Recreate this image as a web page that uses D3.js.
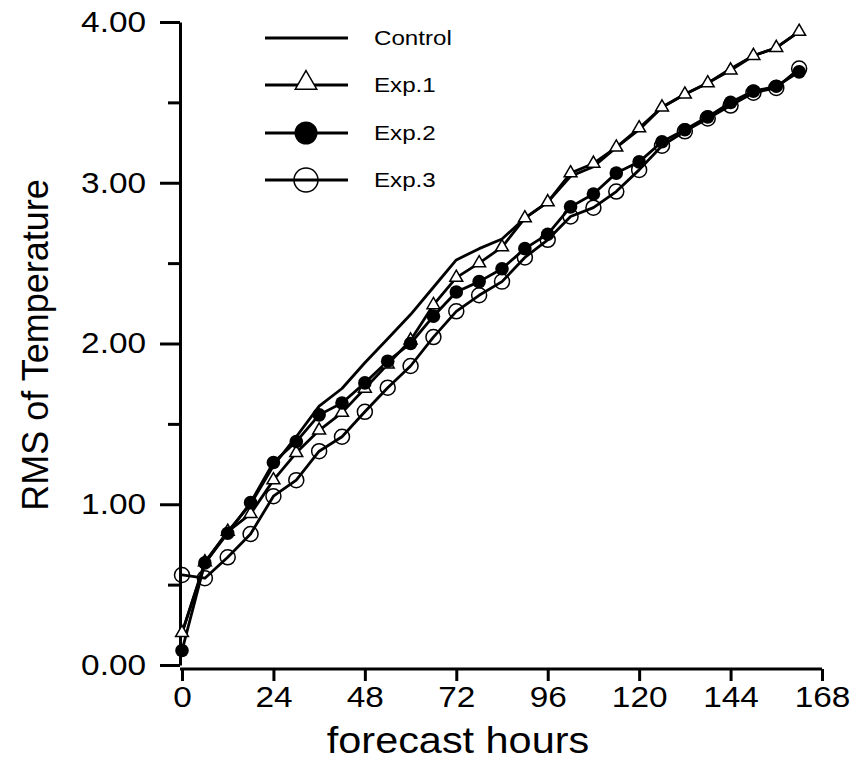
<!DOCTYPE html>
<html>
<head>
<meta charset="utf-8">
<script src="https://cdn.jsdelivr.net/npm/d3@7"></script>
<style>
body { margin: 0; background: #fff; }
text { font-family: "Liberation Sans", Arial, sans-serif; fill: #000; }
</style>
</head>
<body>
<div id="chart"></div>
<script>
// forecast hours, one value every 6 h
var hours = [0, 6, 12, 18, 24, 30, 36, 42, 48, 54, 60, 66, 72, 78, 84, 90, 96, 102, 108, 114, 120, 126, 132, 138, 144, 150, 156, 162];

var control = [0.20, 0.63, 0.83, 1.00, 1.24, 1.42, 1.61, 1.72, 1.88, 2.03, 2.18, 2.35, 2.52, 2.59, 2.65, 2.78, 2.88, 3.04, 3.10, 3.22, 3.33, 3.47, 3.55, 3.62, 3.71, 3.79, 3.84, 3.94];
var exp1 = [0.20, 0.64, 0.83, 0.94, 1.15, 1.32, 1.46, 1.57, 1.72, 1.87, 2.02, 2.24, 2.41, 2.50, 2.60, 2.78, 2.88, 3.06, 3.12, 3.22, 3.34, 3.47, 3.55, 3.62, 3.70, 3.79, 3.84, 3.94];
var exp2 = [0.09, 0.635, 0.82, 1.01, 1.26, 1.39, 1.556, 1.63, 1.755, 1.89, 2.00, 2.17, 2.32, 2.385, 2.465, 2.59, 2.68, 2.85, 2.93, 3.06, 3.13, 3.255, 3.33, 3.41, 3.50, 3.57, 3.60, 3.69];
var exp3 = [0.56, 0.54, 0.67, 0.815, 1.05, 1.15, 1.33, 1.42, 1.575, 1.725, 1.86, 2.04, 2.20, 2.30, 2.385, 2.535, 2.645, 2.79, 2.845, 2.945, 3.08, 3.23, 3.32, 3.40, 3.48, 3.56, 3.59, 3.71];

var xTicks = [0, 24, 48, 72, 96, 120, 144, 168];
var yMajor = [0, 1, 2, 3, 4];
var yMinor = [0.5, 1.5, 2.5, 3.5];
var legendNames = ["Control", "Exp.1", "Exp.2", "Exp.3"];

var W = 850, H = 773;
var svg = d3.select("#chart").append("svg")
    .attr("width", W)
    .attr("height", H);

var x = d3.scaleLinear().domain([0, 168]).range([182, 822]);
var y = d3.scaleLinear().domain([0, 4]).range([665, 22]);

// scanned figure is a bit wider than plain Arial
function stretch(sel, k) {
    sel.each(function() {
        var w = this.getComputedTextLength();
        this.setAttribute("textLength", w * k);
        this.setAttribute("lengthAdjust", "spacingAndGlyphs");
    });
}

// y axis
var gy = svg.append("g").attr("transform", "translate(180,0)");
gy.call(d3.axisLeft(y).tickValues(yMajor).tickSize(20).tickSizeOuter(0).tickPadding(14)
    .tickFormat(d3.format(".2f")));
gy.append("g").call(d3.axisLeft(y).tickValues(yMinor).tickSize(12).tickFormat(""))
    .select(".domain").remove();
gy.selectAll("path, line").attr("stroke", "#000").attr("stroke-width", 3);
gy.selectAll("text").attr("font-size", 29).attr("font-family", "Liberation Sans, Arial").call(stretch, 1.15);

// x axis
var gx = svg.append("g").attr("transform", "translate(0,669)");
gx.call(d3.axisBottom(x).tickValues(xTicks).tickSize(12).tickSizeOuter(0).tickPadding(5));
gx.select(".domain").attr("d", "M180,0H" + x(168));
gx.selectAll("path, line").attr("stroke", "#000").attr("stroke-width", 3);
gx.selectAll("text").attr("font-size", 29).attr("font-family", "Liberation Sans, Arial").call(stretch, 1.15);

svg.append("text")
    .attr("x", 458).attr("y", 753)
    .attr("text-anchor", "middle")
    .attr("font-size", 36)
    .text("forecast hours")
    .call(stretch, 1.15);

svg.append("text")
    .attr("transform", "translate(48,345) rotate(-90)")
    .attr("text-anchor", "middle")
    .attr("font-size", 36)
    .text("RMS of Temperature");

// lines
var line = d3.line().x(function(d) { return x(d[0]); }).y(function(d) { return y(d[1]); });
function pairs(vals) { return hours.map(function(h, i) { return [h, vals[i]]; }); }

[control, exp1, exp2, exp3].forEach(function(s) {
    svg.append("path")
        .datum(pairs(s))
        .attr("fill", "none")
        .attr("stroke", "#000")
        .attr("stroke-width", 2.8)
        .attr("stroke-linejoin", "round")
        .attr("d", line);
});

var tri = d3.symbol().type(d3.symbolTriangle);

// markers
svg.append("g").selectAll("path")
    .data(pairs(exp1))
    .enter().append("path")
    .attr("d", tri.size(72)())
    .attr("transform", function(d) { return "translate(" + x(d[0]) + "," + y(d[1]) + ")"; })
    .attr("fill", "#fff")
    .attr("stroke", "#000")
    .attr("stroke-width", 1.5);

svg.append("g").selectAll("circle")
    .data(pairs(exp2))
    .enter().append("circle")
    .attr("cx", function(d) { return x(d[0]); })
    .attr("cy", function(d) { return y(d[1]); })
    .attr("r", 6.8)
    .attr("fill", "#000");

svg.append("g").selectAll("circle")
    .data(pairs(exp3))
    .enter().append("circle")
    .attr("cx", function(d) { return x(d[0]); })
    .attr("cy", function(d) { return y(d[1]); })
    .attr("r", 7.5)
    .attr("fill", "none")
    .attr("stroke", "#000")
    .attr("stroke-width", 1.5);

// legend
var lg = svg.append("g");
var legY = [38, 85, 133, 180];
legendNames.forEach(function(name, i) {
    var g = lg.append("g").attr("transform", "translate(0," + legY[i] + ")");
    g.append("line").attr("x1", 265).attr("x2", 348)
        .attr("stroke", "#000").attr("stroke-width", 2.8);
    if (i == 1) {
        g.append("path").attr("d", tri.size(200)())
            .attr("transform", "translate(306,-2)")
            .attr("fill", "#fff").attr("stroke", "#000").attr("stroke-width", 1.5);
    } else if (i == 2) {
        g.append("circle").attr("cx", 306).attr("r", 11.5).attr("fill", "#000");
    } else if (i == 3) {
        g.append("circle").attr("cx", 306).attr("r", 12)
            .attr("fill", "none").attr("stroke", "#000").attr("stroke-width", 1.5);
    }
    g.append("text").attr("x", 374).attr("dy", "0.35em")
        .attr("font-size", 21)
        .text(name)
        .call(stretch, 1.15);
});
</script>
</body>
</html>
